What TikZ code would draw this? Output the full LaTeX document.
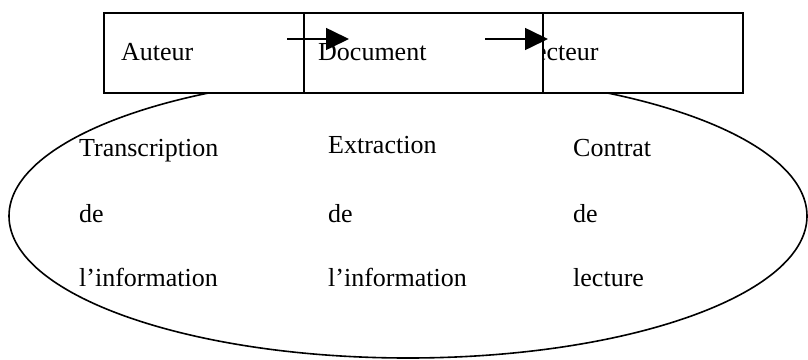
\documentclass[tikz,border=0pt]{standalone}
\usepackage{fontspec}
\setmainfont{Liberation Serif}
\usetikzlibrary{arrows.meta}
\begin{document}
\begin{tikzpicture}[x=1pt,y=-1pt,
  box/.style={draw=black, fill=white, line width=1.6pt, rectangle, anchor=north west, inner sep=0pt},
  lbl/.style={anchor=base west, inner sep=0pt, font=\fontsize{26}{30}\selectfont},
  flow/.style={draw=black, line width=1.6pt, -{Triangle[length=23pt,width=22pt]}},
  oval/.style={draw=black, line width=1.6pt}]
\useasboundingbox (0,0) rectangle (808,359);
% ellipse
\draw[oval] (408,216) ellipse [x radius=399, y radius=142];
% boxes
\node[box, minimum width=200pt, minimum height=80pt] (aut) at (103,12) {};
\node[lbl] (autT) at (121,60) {Auteur};
\node[box, minimum width=241pt, minimum height=80pt] (lec) at (501,12) {};
\node[lbl] (lecT) at (519,60) {Lecteur};
\node[box, minimum width=239pt, minimum height=80pt] (doc) at (303,12) {};
\node[lbl] (docT) at (318,60) {Document};
% arrows
\coordinate (a1s) at (287,39);
\coordinate (a1e) at (349,39);
\coordinate (a2s) at (485,39);
\coordinate (a2e) at (548,39);
\draw[flow] (a1s) -- (a1e);
\draw[flow] (a2s) -- (a2e);
% column texts
\node[lbl] (c1a) at (79,156) {Transcription};
\node[lbl] (c1b) at (79,222) {de};
\node[lbl] (c1c) at (79,286) {l’information};
\node[lbl] (c2a) at (328,153) {Extraction};
\node[lbl] (c2b) at (328,222) {de};
\node[lbl] (c2c) at (328,286) {l’information};
\node[lbl] (c3a) at (573,156) {Contrat};
\node[lbl] (c3b) at (573,222) {de};
\node[lbl] (c3c) at (573,286) {lecture};
\end{tikzpicture}
\end{document}
